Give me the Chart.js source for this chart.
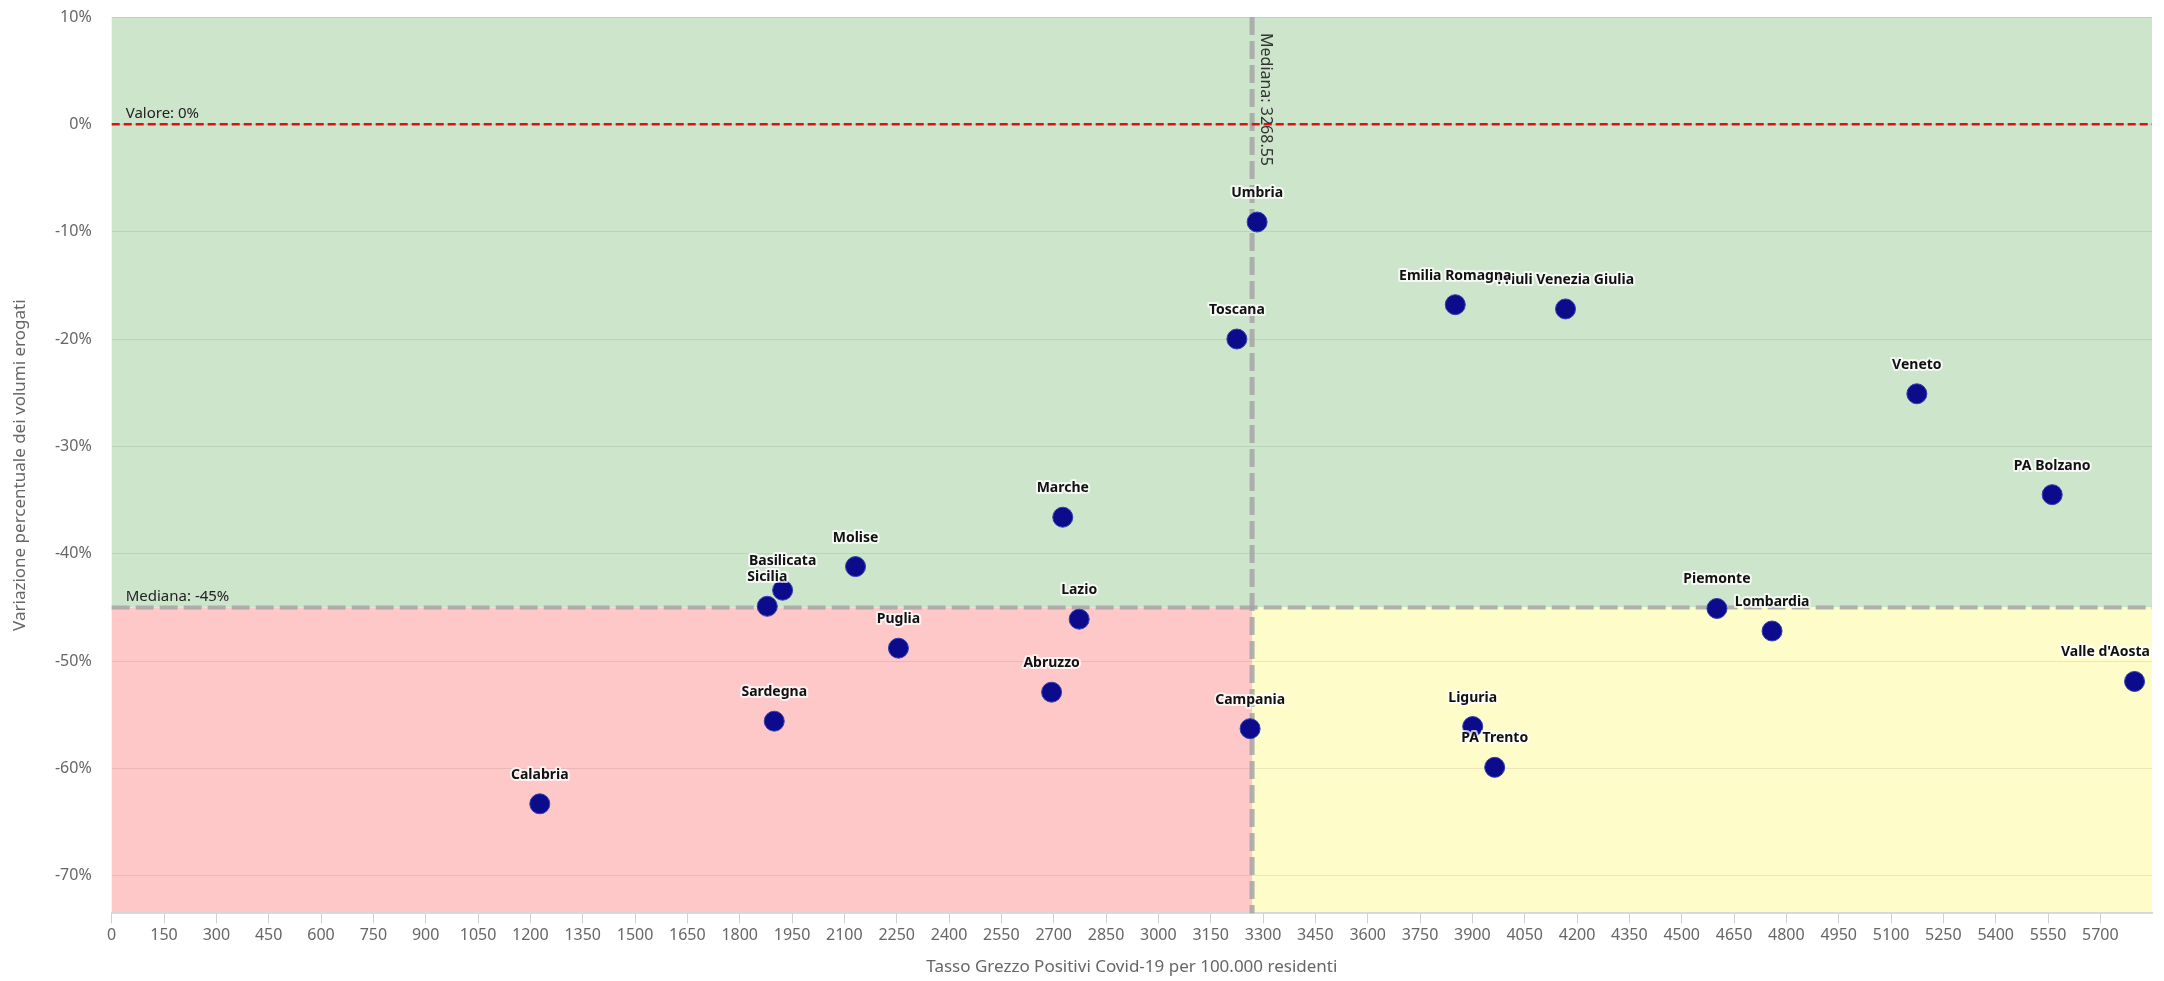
<!DOCTYPE html>
<html>
<head>
<meta charset="utf-8">
<script src="https://cdn.jsdelivr.net/npm/chart.js@4.4.1/dist/chart.umd.min.js"></script>
<style>
  html, body { margin: 0; padding: 0; background: #fff; }
  #wrap { width: 2164px; height: 981px; position: relative; }
</style>
</head>
<body>
<div id="wrap"><canvas id="myChart"></canvas></div>
<script>
// regions (order matters for label stacking)
const regions = ['Calabria', 'Sardegna', 'Sicilia', 'Basilicata', 'Molise', 'Puglia', 'Abruzzo',
  'Marche', 'Lazio', 'Toscana', 'Umbria', 'Campania', 'Friuli Venezia Giulia', 'Emilia Romagna',
  'Liguria', 'PA Trento', 'Veneto', 'PA Bolzano', 'Piemonte', 'Lombardia', "Valle d'Aosta"];
// Tasso grezzo positivi per 100.000
const tassoPositivi = [1227, 1899, 1879, 1923, 2132, 2255, 2694,
  2726, 2773, 3225, 3283, 3263, 4167, 3851,
  3901, 3964, 5174, 5562, 4601, 4759, 5798];
// variazione % volumi erogati
const variazione = [-63.3, -55.6, -44.9, -43.4, -41.2, -48.8, -52.9,
  -36.6, -46.1, -20.0, -9.1, -56.3, -17.2, -16.8,
  -56.1, -59.9, -25.1, -34.5, -45.1, -47.2, -51.9];

const xTicks = [0, 150, 300, 450, 600, 750, 900, 1050, 1200, 1350, 1500, 1650, 1800, 1950,
  2100, 2250, 2400, 2550, 2700, 2850, 3000, 3150, 3300, 3450, 3600, 3750, 3900, 4050, 4200,
  4350, 4500, 4650, 4800, 4950, 5100, 5250, 5400, 5550, 5700];
const yTicks = [10, 0, -10, -20, -30, -40, -50, -60, -70];

const medianaX = 3268.55;
const medianaY = -45;
const valoreRif = 0;

const FONT = '"Noto Sans", "DejaVu Sans", sans-serif';

// coloured quadrants, drawn under the grid
const quadrants = {
  id: 'quadrants',
  beforeDraw(chart) {
    const { ctx, chartArea: a, scales: { x, y } } = chart;
    const mx = x.getPixelForValue(medianaX);
    const my = y.getPixelForValue(medianaY);
    ctx.save();
    ctx.fillStyle = '#cde5cb';
    ctx.fillRect(a.left, a.top, a.right - a.left, my - a.top);
    ctx.fillStyle = '#fec8c8';
    ctx.fillRect(a.left, my, mx - a.left, a.bottom - my);
    ctx.fillStyle = '#fefcc9';
    ctx.fillRect(mx, my, a.right - mx, a.bottom - my);
    ctx.restore();
  }
};

// median lines + reference line
const refLines = {
  id: 'refLines',
  beforeDatasetsDraw(chart) {
    const { ctx, chartArea: a, scales: { x, y } } = chart;
    const mx = x.getPixelForValue(medianaX);
    const my = y.getPixelForValue(medianaY);
    const zy = y.getPixelForValue(valoreRif);
    ctx.save();
    // horizontal median
    ctx.strokeStyle = 'rgba(165,165,165,0.85)';
    ctx.lineWidth = 4;
    ctx.setLineDash([18, 6]);
    ctx.beginPath();
    ctx.moveTo(a.left, my);
    ctx.lineTo(a.right, my);
    ctx.stroke();
    // vertical median
    ctx.lineWidth = 5;
    ctx.beginPath();
    ctx.moveTo(mx, a.top);
    ctx.lineTo(mx, a.bottom);
    ctx.stroke();
    // 0% line
    ctx.strokeStyle = '#e01010';
    ctx.lineWidth = 2.5;
    ctx.setLineDash([8, 4]);
    ctx.beginPath();
    ctx.moveTo(a.left, zy);
    ctx.lineTo(a.right, zy);
    ctx.stroke();
    ctx.setLineDash([]);

    ctx.fillStyle = '#222';
    ctx.font = '15px ' + FONT;
    ctx.textAlign = 'left';
    ctx.textBaseline = 'bottom';
    ctx.fillText('Valore: ' + valoreRif + '%', a.left + 14, zy - 3);
    ctx.fillText('Mediana: ' + medianaY + '%', a.left + 14, my - 3);

    ctx.translate(mx + 6, a.top + 16);
    ctx.rotate(Math.PI / 2);
    ctx.font = '16px ' + FONT;
    ctx.textBaseline = 'bottom';
    ctx.fillStyle = '#333';
    ctx.fillText('Mediana: ' + medianaX, 0, 0);
    ctx.restore();
  }
};

// region names above the points
const pointLabels = {
  id: 'pointLabels',
  afterDatasetsDraw(chart) {
    const { ctx, chartArea: a } = chart;
    const meta = chart.getDatasetMeta(0);
    ctx.save();
    ctx.font = 'bold 14px ' + FONT;
    ctx.textAlign = 'center';
    ctx.textBaseline = 'middle';
    ctx.lineJoin = 'round';
    meta.data.forEach((pt, i) => {
      const w = ctx.measureText(regions[i]).width;
      let tx = pt.x;
      if (tx + w / 2 > a.right - 2) tx = a.right - 2 - w / 2;
      const ty = pt.y - 29;
      ctx.strokeStyle = 'rgba(255,255,255,0.75)';
      ctx.lineWidth = 4;
      ctx.strokeText(regions[i], tx, ty);
      ctx.fillStyle = '#111';
      ctx.fillText(regions[i], tx, ty);
    });
    ctx.restore();
  }
};

const ctx = document.getElementById('myChart').getContext('2d');
new Chart(ctx, {
  type: 'scatter',
  data: {
    datasets: [{
      label: 'Regioni',
      data: regions.map((r, i) => ({ x: tassoPositivi[i], y: variazione[i] })),
      backgroundColor: '#0b0b8c',
      borderColor: '#3040b0',
      borderWidth: 1,
      pointRadius: 10,
      pointHoverRadius: 10,
    }],
  },
  options: {
    responsive: true,
    maintainAspectRatio: false,
    animation: false,
    devicePixelRatio: 1,
    layout: { padding: { top: 17, right: 12, left: 0, bottom: 0 } },
    plugins: {
      legend: { display: false },
      tooltip: { enabled: false },
    },
    scales: {
      x: {
        type: 'linear',
        min: 0,
        max: 5848,
        afterBuildTicks: (s) => { s.ticks = xTicks.map(v => ({ value: v })); },
        afterFit: (s) => { s.height = 67.7; s.paddingLeft = 0; s.paddingRight = 0; },
        ticks: {
          color: '#666',
          font: { family: FONT, size: 16 },
          padding: 3,
          maxRotation: 0,
          autoSkip: false,
          callback: (v) => String(v),
        },
        grid: {
          drawOnChartArea: false,
          drawTicks: true,
          tickLength: 10,
          color: '#d0d0d0',
        },
        border: { display: true, color: '#d8d8d8', width: 2 },
        title: {
          display: true,
          text: 'Tasso Grezzo Positivi Covid-19 per 100.000 residenti',
          color: '#666',
          font: { family: FONT, size: 17 },
          padding: { top: 0, bottom: 4 },
        },
      },
      y: {
        type: 'linear',
        min: -73.5,
        max: 10,
        afterBuildTicks: (s) => { s.ticks = yTicks.map(v => ({ value: v })); },
        afterFit: (s) => { s.width = 111.7; s.paddingTop = 0; s.paddingBottom = 0; },
        ticks: {
          color: '#666',
          font: { family: FONT, size: 16 },
          padding: 20,
          callback: (v) => v + '%',
        },
        grid: {
          drawTicks: false,
          color: 'rgba(0,0,0,0.08)',
        },
        border: { display: false },
        title: {
          display: true,
          text: 'Variazione percentuale dei volumi erogati',
          color: '#666',
          font: { family: FONT, size: 17 },
          padding: { top: 10, bottom: 8 },
        },
      },
    },
  },
  plugins: [quadrants, refLines, pointLabels],
});
</script>
</body>
</html>
